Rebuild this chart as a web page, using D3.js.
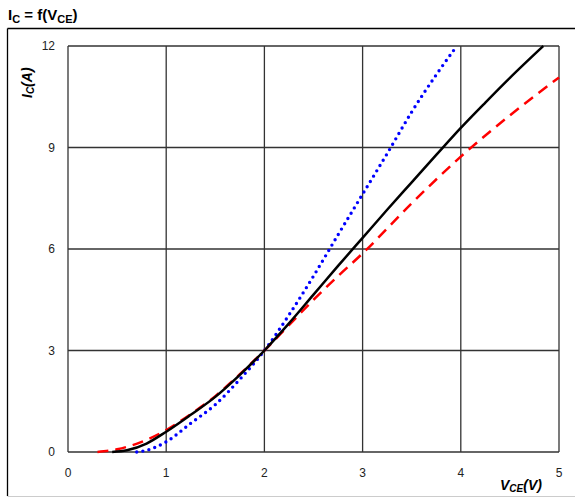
<!DOCTYPE html>
<meta charset="utf-8">
<style>
  body { margin: 0; background: #fff; }
  text { font-family: "Liberation Sans", Arial, sans-serif; }
</style>
<svg width="575" height="498"></svg>
<script src="https://d3js.org/d3.v7.min.js"></script>
<script>

// curve readings, V_CE (V) vs I_C (A)
var blackV = [0.45, 0.6, 0.8, 1, 1.25, 1.5, 1.75, 2, 2.25, 2.5, 2.75, 3, 3.25, 3.5, 3.75, 4, 4.25, 4.5, 4.84];
var blackI = [0, 0.05, 0.25, 0.6, 1.1, 1.63, 2.28, 3.0, 3.8, 4.65, 5.5, 6.33, 7.16, 7.97, 8.78, 9.58, 10.33, 11.06, 12];

var redV = [0.3, 0.5, 0.75, 1, 1.25, 1.5, 1.75, 2, 2.25, 2.5, 2.75, 3, 3.5, 4, 4.5, 5];
var redI = [0, 0.08, 0.3, 0.65, 1.12, 1.65, 2.3, 3.0, 3.75, 4.5, 5.2, 5.87, 7.35, 8.73, 9.95, 11.07];

var blueV = [0.7, 0.8, 1, 1.25, 1.5, 1.75, 2, 2.25, 2.5, 2.75, 3, 3.25, 3.5, 3.75, 3.96];
var blueI = [0, 0.05, 0.3, 0.85, 1.4, 2.15, 3.0, 4.05, 5.2, 6.42, 7.62, 8.82, 10.05, 11.15, 12];

var xTicks = [0, 1, 2, 3, 4, 5];
var yTicks = [0, 3, 6, 9, 12];

var svg = d3.select("svg");

var x = d3.scaleLinear().domain([0, 5]).range([68, 559]);
var y = d3.scaleLinear().domain([0, 12]).range([452, 46]);

// outer frame
svg.append("line").attr("x1", 7.5).attr("x2", 575).attr("y1", 28.5).attr("y2", 28.5)
    .attr("stroke", "#000").attr("stroke-width", 1.3);
svg.append("line").attr("x1", 7.5).attr("x2", 7.5).attr("y1", 28.5).attr("y2", 496)
    .attr("stroke", "#000").attr("stroke-width", 1.3);
svg.append("line").attr("x1", 7.5).attr("x2", 575).attr("y1", 496.5).attr("y2", 496.5)
    .attr("stroke", "#ccc").attr("stroke-width", 1);

// title
var title = svg.append("text").attr("x", 8).attr("y", 20)
    .attr("font-size", 15).attr("font-weight", "bold").attr("fill", "#000");
title.append("tspan").text("I");
title.append("tspan").attr("font-size", 11).attr("dy", 3).text("C");
title.append("tspan").attr("dy", -3).text(" = f(V");
title.append("tspan").attr("font-size", 11).attr("dy", 3).text("CE");
title.append("tspan").attr("dy", -3).text(")");

// grid
var grid = svg.append("g").attr("stroke", "#333").attr("stroke-width", 1.3);
grid.selectAll(".gx").data(xTicks).enter().append("line")
    .attr("x1", d => x(d)).attr("x2", d => x(d))
    .attr("y1", y(0)).attr("y2", y(12));
grid.selectAll(".gy").data(yTicks).enter().append("line")
    .attr("y1", d => y(d)).attr("y2", d => y(d))
    .attr("x1", x(0)).attr("x2", x(5));

// tick labels
svg.selectAll(".yl").data(yTicks).enter().append("text")
    .attr("x", 55).attr("y", d => y(d) + 4)
    .attr("text-anchor", "end").attr("font-size", 12).attr("fill", "#222")
    .text(d => d);
svg.selectAll(".xl").data(xTicks).enter().append("text")
    .attr("x", d => x(d)).attr("y", 477)
    .attr("text-anchor", "middle").attr("font-size", 12).attr("fill", "#222")
    .text(d => d);

// axis titles
var xt = svg.append("text").attr("x", 500).attr("y", 490)
    .attr("font-size", 14).attr("font-weight", "bold").attr("font-style", "italic");
xt.append("tspan").text("V");
xt.append("tspan").attr("font-size", 10).attr("dy", 2).text("CE");
xt.append("tspan").attr("dy", -2).text("(V)");

var yt = svg.append("text").attr("transform", "translate(32,98) rotate(-90)")
    .attr("font-size", 14).attr("font-weight", "bold").attr("font-style", "italic");
yt.append("tspan").text("I");
yt.append("tspan").attr("font-size", 10).attr("dy", 2).text("C");
yt.append("tspan").attr("dy", -2).text("(A)");

// curves
var line = d3.line()
    .x(d => x(d[0])).y(d => y(d[1]))
    .curve(d3.curveMonotoneX);

function draw(vs, is, color, width, dash, cap) {
  svg.append("path")
      .datum(d3.zip(vs, is))
      .attr("fill", "none")
      .attr("stroke", color)
      .attr("stroke-width", width)
      .attr("stroke-dasharray", dash)
      .attr("stroke-linecap", cap)
      .attr("d", line);
}

draw(blueV, blueI, "#0000ff", 3.4, "0 6.2", "round");
draw(redV, redI, "#ff0000", 2.5, "11 7", "butt");
draw(blackV, blackI, "#000", 2.5, null, "butt");

</script>
